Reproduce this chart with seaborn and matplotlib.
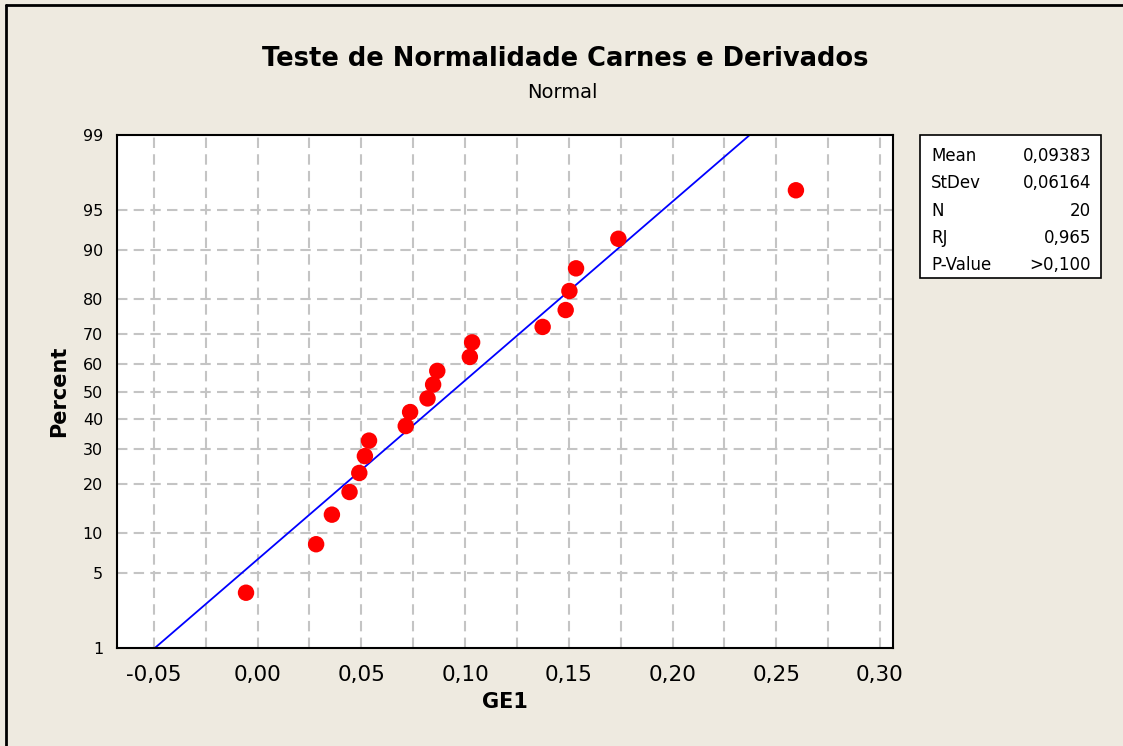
import numpy as np
import pandas as pd
import matplotlib.pyplot as plt
import matplotlib.patches as mpatches
import seaborn as sns
from statistics import NormalDist

# data
ge1 = [-0.0056, 0.0282, 0.0358, 0.0443, 0.0490, 0.0517, 0.0537, 0.0714, 0.0735,
       0.0819, 0.0846, 0.0866, 0.1023, 0.1034, 0.1374, 0.1485, 0.1503, 0.1535,
       0.1739, 0.2595]
percent = [3.4, 8.3, 13.2, 18.1, 23.0, 27.9, 32.8, 37.7, 42.6, 47.5,
           52.5, 57.4, 62.3, 67.2, 72.1, 77.0, 81.9, 86.8, 91.7, 96.6]
mean = 0.09383
stdev = 0.06164
y_ticks = [1, 5, 10, 20, 30, 40, 50, 60, 70, 80, 90, 95, 99]
x_ticks = [-0.05, 0.00, 0.05, 0.10, 0.15, 0.20, 0.25, 0.30]
x_grid = [-0.05, -0.025, 0.0, 0.025, 0.05, 0.075, 0.10, 0.125, 0.15, 0.175,
          0.20, 0.225, 0.25, 0.275, 0.30]
stats_labels = ["Mean", "StDev", "N", "RJ", "P-Value"]
stats_values = ["0,09383", "0,06164", "20", "0,965", ">0,100"]

nd = NormalDist()
def z(p):
    return nd.inv_cdf(p / 100.0)

bg = "#EEEAE0"
sns.set_style("white")
plt.rcParams['font.family'] = ['DejaVu Sans']
plt.rcParams['text.color'] = 'black'
plt.rcParams['axes.labelcolor'] = 'black'

fig = plt.figure(figsize=(11.23, 7.46), dpi=100, facecolor=bg)
ax = fig.add_axes([117 / 1123, 1 - 648 / 746, 776 / 1123, 513 / 746])
ax.set_facecolor("white")

df = pd.DataFrame({"GE1": ge1, "z": [z(p) for p in percent]})
line = pd.DataFrame({"GE1": [mean + stdev * z(1), mean + stdev * z(99)],
                     "z": [z(1), z(99)]})

# grid
for gx in x_grid:
    ax.axvline(gx, color="#C4C4C4", lw=1.5, ls=(0, (5, 3)), zorder=0)
for t in y_ticks[1:-1]:
    ax.axhline(z(t), color="#C4C4C4", lw=1.5, ls=(0, (5, 3)), zorder=0)

sns.lineplot(data=line, x="GE1", y="z", color="#0000FF", lw=1.3, ax=ax, zorder=2)
sns.scatterplot(data=df, x="GE1", y="z", color="#FF0000", s=140, edgecolor="none",
                ax=ax, zorder=3)

ax.set_xlim(-0.0678, 0.3063)
ax.set_ylim(z(1), z(99))
ax.set_xticks(x_ticks)
ax.set_xticklabels([f"{v:.2f}".replace(".", ",") for v in x_ticks], fontsize=15.5)
ax.set_yticks([z(t) for t in y_ticks])
ax.set_yticklabels([str(t) for t in y_ticks], fontsize=11.5)
ax.tick_params(axis="x", direction="out", length=8, width=1.5, pad=4, colors="black")
ax.tick_params(axis="y", direction="out", length=8, width=1.5, pad=2, colors="black")
for s in ax.spines.values():
    s.set_color("black")
    s.set_linewidth(1.5)

ax.set_xlabel("GE1", fontsize=15, fontweight="bold", labelpad=5)
ax.set_ylabel("Percent", fontsize=15, fontweight="bold", labelpad=10)

fig.text(565 / 1123, 1 - 59 / 746, "Teste de Normalidade Carnes e Derivados",
         ha="center", va="center", fontsize=18.5, fontweight="bold")
fig.text(562 / 1123, 1 - 93 / 746, "Normal", ha="center", va="center", fontsize=14)

# stats box
fig.patches.append(mpatches.Rectangle((920 / 1123, 1 - 278 / 746), 181 / 1123, 143 / 746,
                                      transform=fig.transFigure, facecolor="white",
                                      edgecolor="black", lw=1.2))
for i, (lab, val) in enumerate(zip(stats_labels, stats_values)):
    yy = 1 - (156 + i * 27.3) / 746
    fig.text(931 / 1123, yy, lab, ha="left", va="center", fontsize=12)
    fig.text(1091 / 1123, yy, val, ha="right", va="center", fontsize=12)

# outer frame (top and left only, as in the screenshot)
fig.lines.append(plt.Line2D([6 / 1123, 6 / 1123], [0, 1 - 5 / 746],
                            transform=fig.transFigure, color="black", lw=2))
fig.lines.append(plt.Line2D([6 / 1123, 1], [1 - 5 / 746, 1 - 5 / 746],
                            transform=fig.transFigure, color="black", lw=2))

fig.savefig("out.png", dpi=100, facecolor=bg)
